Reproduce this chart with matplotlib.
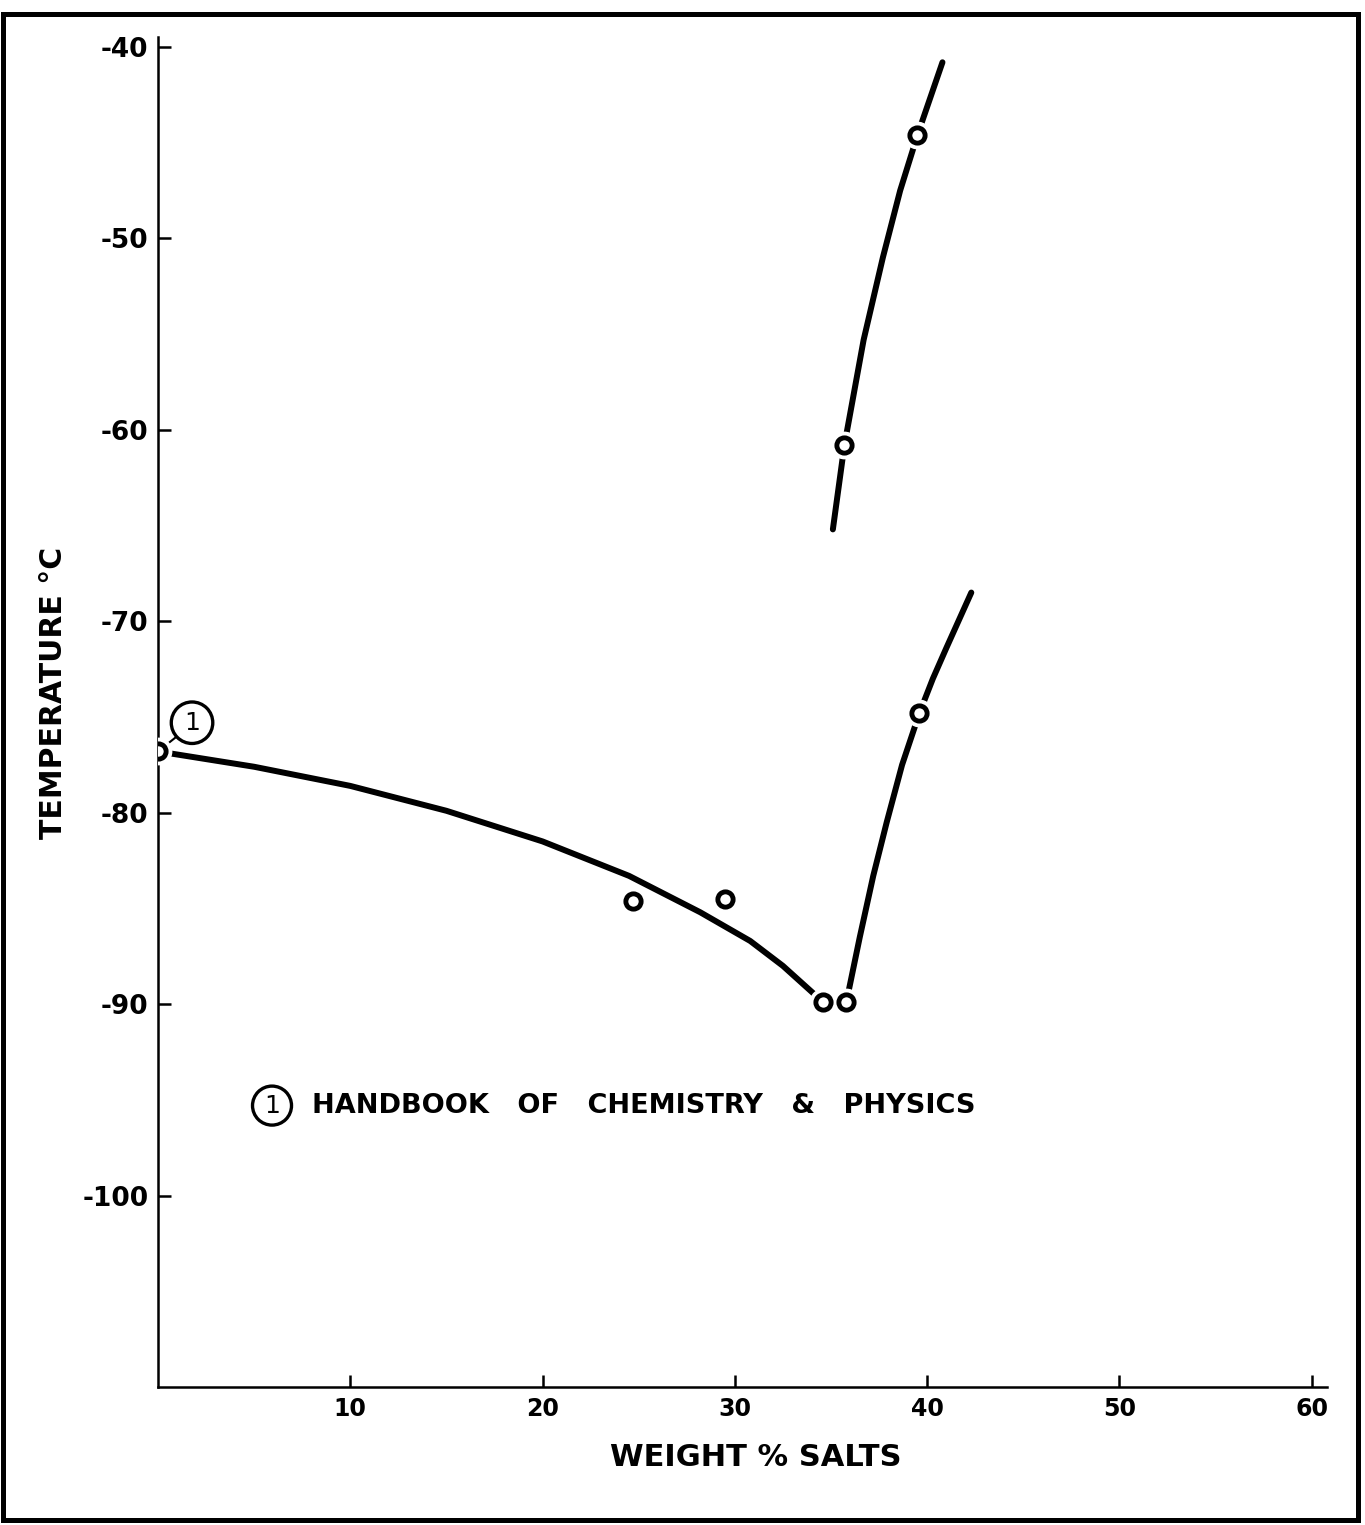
import matplotlib
matplotlib.use("Agg")
import matplotlib.pyplot as plt
from matplotlib.patches import Rectangle

# measured points (weight % salts, temperature C)
pts_x = [0.0, 24.7, 29.5, 34.6, 35.8, 39.6, 35.7, 39.5]
pts_y = [-76.8, -84.6, -84.5, -89.9, -89.9, -74.8, -60.8, -44.6]

# curves
low_x = [0.0, 5.0, 10.0, 15.0, 20.0, 24.5, 28.2, 30.8, 32.5, 34.6]
low_y = [-76.8, -77.6, -78.6, -79.9, -81.5, -83.3, -85.2, -86.7, -88.0, -89.9]

right_x = [35.8, 36.5, 37.2, 37.9, 38.7, 39.6, 40.3, 41.0, 42.3]
right_y = [-89.9, -86.5, -83.3, -80.5, -77.5, -74.8, -73.0, -71.4, -68.5]

upper_x = [35.1, 35.7, 36.7, 37.7, 38.6, 39.5, 40.8]
upper_y = [-65.2, -60.8, -55.3, -51.0, -47.5, -44.6, -40.8]

xticks = [10, 20, 30, 40, 50, 60]
yticks = [-40, -50, -60, -70, -80, -90, -100]

W, H = 1365, 1525
fig = plt.figure(figsize=(W / 100, H / 100), dpi=100)
ax = fig.add_axes([158 / W, 1 - 1387 / H, 1169 / W, (1387 - 37.4) / H])

for cx, cy in [(low_x, low_y), (right_x, right_y), (upper_x, upper_y)]:
    ax.plot(cx, cy, color="black", lw=4.3, solid_capstyle="round",
            solid_joinstyle="round", zorder=2)

# white halo so the curves break around the points
ax.plot(pts_x, pts_y, ls="none", marker="o", ms=19, mfc="white", mec="white", zorder=3)
ax.plot(pts_x, pts_y, ls="none", marker="o", ms=11, mfc="white", mec="black", mew=3.5, zorder=4)

ax.set_xlim(0, 60.8)
ax.set_ylim(-110, -39.5)
ax.set_xticks(xticks)
ax.set_yticks(yticks)
ax.set_xticklabels([str(t) for t in xticks])
ax.set_yticklabels([str(t) for t in yticks])

for s in ["top", "right"]:
    ax.spines[s].set_visible(False)
for s in ["left", "bottom"]:
    ax.spines[s].set_linewidth(1.8)

ax.tick_params(direction="in", length=9, width=1.8, labelsize=17, pad=7)
ax.tick_params(axis="y", labelsize=19)
for lab in ax.get_xticklabels() + ax.get_yticklabels():
    lab.set_fontweight("bold")

ax.set_xlabel("WEIGHT % SALTS", fontsize=22, fontweight="bold")
ax.set_ylabel("TEMPERATURE °C", fontsize=21.5, fontweight="bold")
ax.xaxis.set_label_coords(0.511, -0.0415)
ax.yaxis.set_label_coords(-0.077, 0.514)

# reference tag on the first point
ax.plot([0.0, 1.0], [-76.8, -76.0], color="black", lw=1.5, zorder=1)
ax.text(1.77, -75.3, "1", fontsize=18, ha="center", va="center", zorder=5,
        bbox=dict(boxstyle="circle,pad=0.35", fc="white", ec="black", lw=2.4))

ax.text(5.93, -95.3, "1", fontsize=18, ha="center", va="center",
        bbox=dict(boxstyle="circle,pad=0.3", fc="white", ec="black", lw=2.4))
ax.text(8.0, -95.3, "HANDBOOK   OF   CHEMISTRY   &   PHYSICS", fontsize=19.5,
        ha="left", va="center", fontweight="bold")

fig.patches.append(Rectangle((3 / W, 1 - 1520 / H), (1358 - 3) / W, (1520 - 14) / H,
                             transform=fig.transFigure, fill=False, ec="black", lw=3.6))

fig.savefig("out.png", dpi=100, facecolor="white")
